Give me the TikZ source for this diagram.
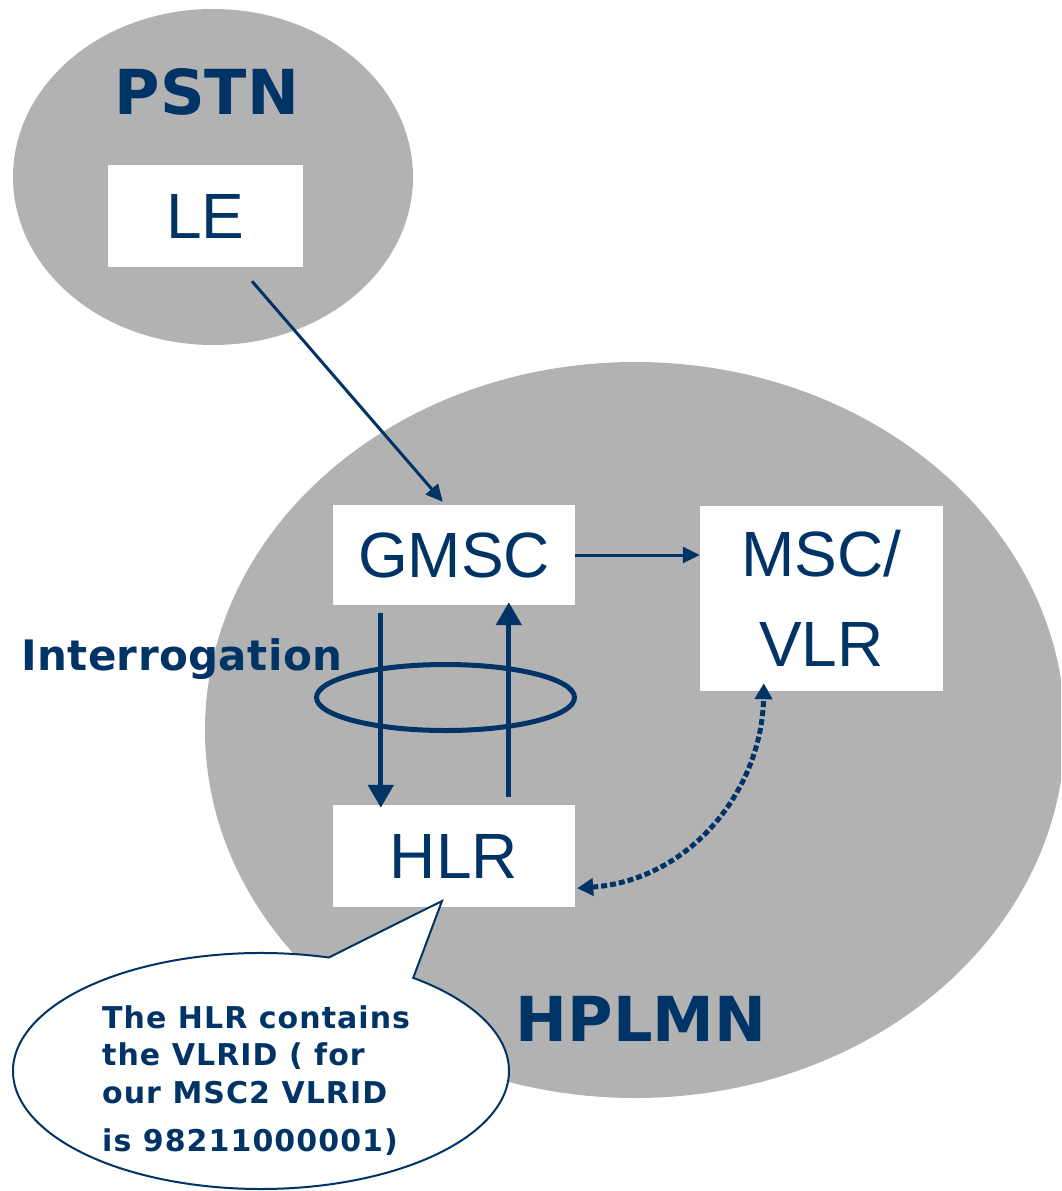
\documentclass[tikz,border=0pt]{standalone}
\usepackage{fontspec}
\setmainfont{Liberation Sans}
\newfontfamily\dvfont{DejaVu Sans}
\newfontfamily\dvspaced{DejaVu Sans}[LetterSpace=3.5]
\newfontfamily\dvlight{DejaVu Sans}[LetterSpace=1]
\usetikzlibrary{arrows.meta,shapes.callouts,shapes.geometric,calc}
\definecolor{navy}{RGB}{0,51,102}
\definecolor{cloud}{RGB}{178,178,178}
\begin{document}
\begin{tikzpicture}[x=1pt,y=-1pt,
  box/.style={fill=white, inner sep=0pt, text=navy, align=center,
    font=\fontsize{64}{90}\selectfont},
  bigbold/.style={text=navy, inner sep=0pt, font=\dvfont\bfseries\fontsize{62}{70}\selectfont},
  thinarrow/.style={draw=navy, line width=3pt, -{Triangle[length=17pt,width=16pt]}},
  thickarrow/.style={draw=navy, line width=5pt, -{Triangle[length=23pt,width=25pt]}},
  dotarrow/.style={draw=navy, line width=5pt, dash pattern=on 6pt off 3pt,
    {Triangle[length=16pt,width=17pt]}-{Triangle[length=16pt,width=17pt]}}]
\useasboundingbox (0,0) rectangle (1061,1191);
\begin{scope}
  \clip (0,0) rectangle (1061,1191);
  \fill[cloud] (213,177) ellipse [x radius=200pt, y radius=168pt];
  \fill[cloud] (635,730) ellipse [x radius=430pt, y radius=368pt];
\end{scope}

\node[bigbold] (pstn) at (207,92) {PSTN};
\node[box, minimum width=195, minimum height=102] (le) at (205.5,216) {LE};

\node[box, minimum width=242, minimum height=100] (gmsc) at (454,555) {GMSC};
\node[box, minimum width=243, minimum height=185] (msc) at (821.5,598.5) {MSC/\\VLR};
\node[box, minimum width=242, minimum height=102] (hlr) at (454,856) {HLR};

\node[bigbold] (hplmn) at (641,1019) {HPLMN};
\node[text=navy, inner sep=0pt, anchor=base west,
  font=\dvlight\bfseries\fontsize{42}{50}\selectfont] (interr) at (21,670) {Interrogation};

% interrogation ring
\draw[navy, line width=5pt] (445.5,697.5) ellipse [x radius=129pt, y radius=33pt];

% connectors
\draw[thinarrow] ($(le.south)+(46.5,14)$) -- ($(gmsc.north west)+(110,-3)$);
\draw[thinarrow] (gmsc.east) -- (gmsc.east -| msc.west);
\draw[thickarrow] ($(gmsc.south west)+(48,8)$) -- ($(hlr.north west)+(48,3)$);
\draw[thickarrow] ($(hlr.north west)+(176,-8)$) -- ($(gmsc.south west)+(176,-3)$);
\draw[dotarrow] ($(hlr.south east)+(2,-19)$) .. controls (690,880) and (762,790) .. ($(msc.south west)+(64,-8)$);

% callout
\node[ellipse callout, draw=navy, line width=2pt, fill=white,
  minimum width=496, minimum height=236,
  callout absolute pointer={(442,901)}, callout pointer arc=22] (note) at (261,1071) {};
\node[text=navy, inner sep=0pt, anchor=north west, align=left,
  font=\dvspaced\bfseries\fontsize{30}{37.5}\selectfont] (notetext) at (102,1005)
  {The HLR contains\\the VLRID ( for\\our MSC2 VLRID\\[11pt]is 98211000001)};
\end{tikzpicture}
\end{document}
